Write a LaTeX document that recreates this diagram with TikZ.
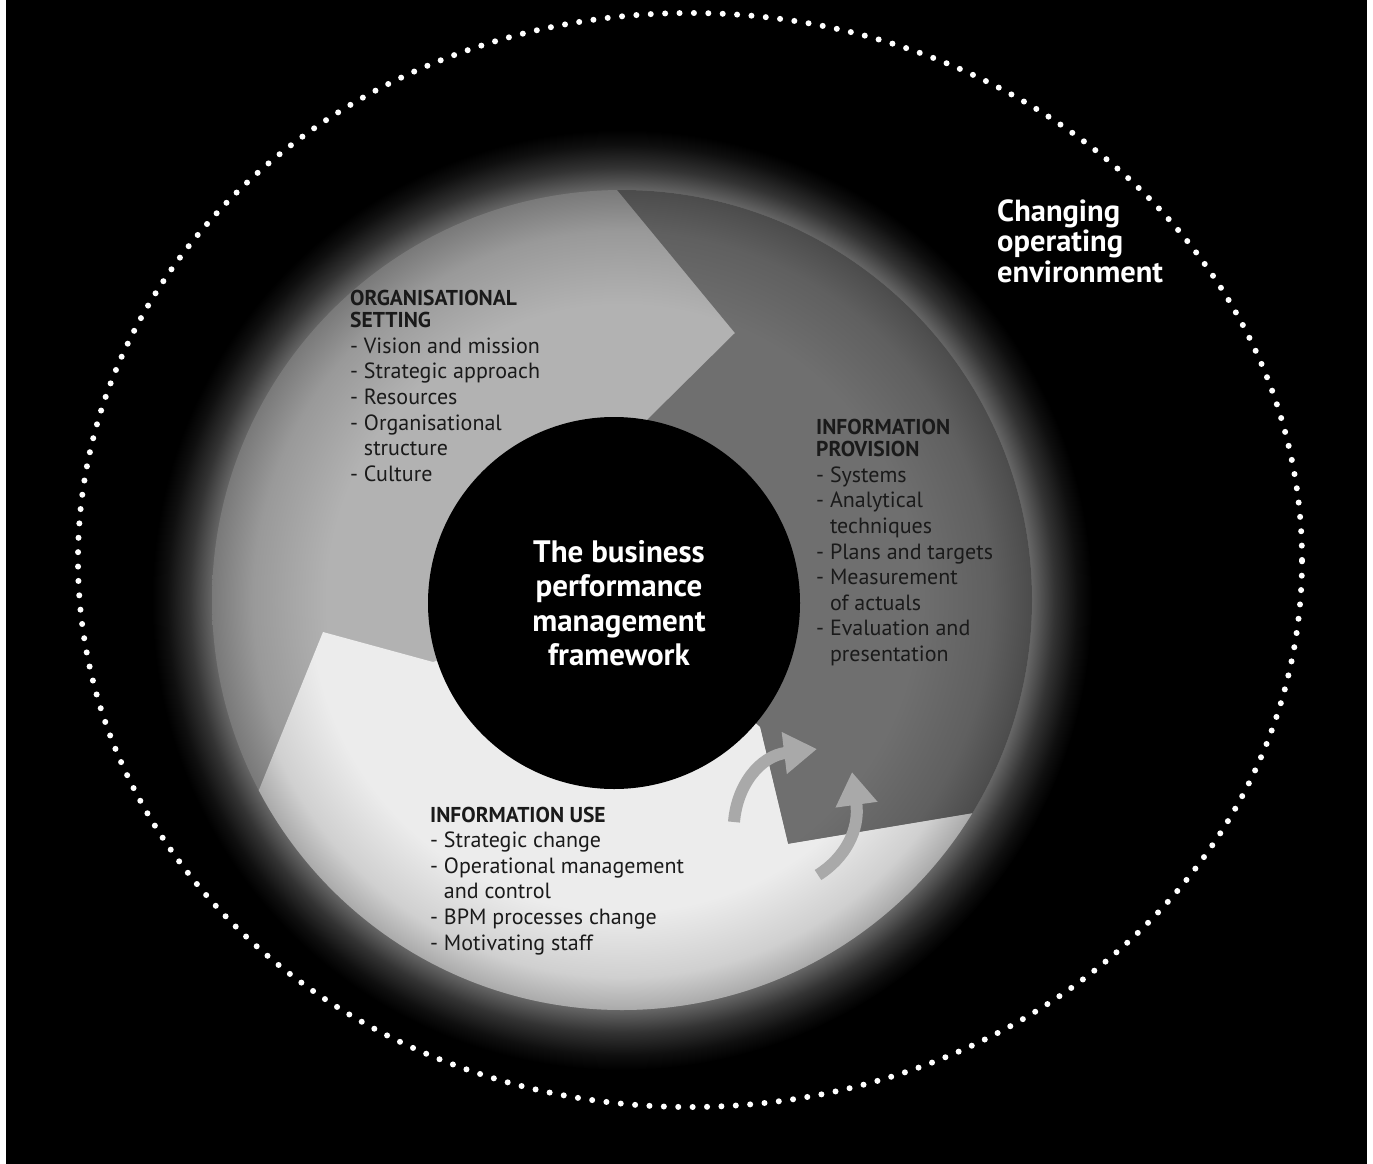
\documentclass[tikz,border=0pt]{standalone}
\usepackage{fontspec}
\setmainfont{PT Sans}
\usetikzlibrary{arrows.meta}
\definecolor{cA}{HTML}{B2B2B2}
\definecolor{cB}{HTML}{6F6F6F}
\definecolor{cC}{HTML}{ECECEC}
\definecolor{arrc}{HTML}{A9A9A9}
\definecolor{txt}{HTML}{1A1A1A}
\pgfdeclareradialshading{halo}{\pgfpoint{0bp}{0bp}}{color(0bp)=(black!60); color(21.8bp)=(black!60); color(23bp)=(black!80); color(24.2bp)=(black!94); color(25bp)=(black); color(50bp)=(black)}
\pgfdeclareradialshading{shA}{\pgfpoint{0bp}{0bp}}{color(0bp)=(cA); color(18bp)=(cA); color(22.5bp)=(cA!86!black); color(25bp)=(cA!68!black); color(50bp)=(cA!68!black)}
\pgfdeclareradialshading{shB}{\pgfpoint{0bp}{0bp}}{color(0bp)=(cB); color(18bp)=(cB); color(22.5bp)=(cB!86!black); color(25bp)=(cB!68!black); color(50bp)=(cB!68!black)}
\pgfdeclareradialshading{shC}{\pgfpoint{0bp}{0bp}}{color(0bp)=(cC); color(19bp)=(cC); color(23bp)=(cC!88!black); color(25bp)=(cC!72!black); color(50bp)=(cC!72!black)}
\begin{document}
\begin{tikzpicture}[x=1pt,y=-1pt,
  listtext/.style={anchor=base west, inner sep=0pt, text=txt, font=\fontsize{22}{25.6}\selectfont},
  centertext/.style={anchor=base, inner sep=0pt, text=white, font=\bfseries\fontsize{31}{34.5}\selectfont},
  envtext/.style={anchor=base west, inner sep=0pt, text=white, font=\bfseries\fontsize{30.5}{30.5}\selectfont},
  cyclearrow/.style={draw=arrc, line width=12pt, -{Triangle[width=40pt,length=33pt,fill=arrc]}},
  dots/.style={draw=white, line width=6pt, line cap=round, dash pattern=on 0pt off 14.4pt}]
\newcommand{\hdr}[1]{{\bfseries\fontsize{21.5}{22}\selectfont #1}}
\useasboundingbox (0,0) rectangle (1373,1164);
\fill[white] (0,0) rectangle (1373,1164);
\fill[black] (6,0) rectangle (1367,1164);
\coordinate (G) at (622,600);
% halo
\shade[shading=halo] (G) circle (470pt);
% sectors
\begin{scope}
  \clip (G) circle (410pt);
  \shade[shading=shA] (G) circle (410pt);
  \begin{scope}
    \clip (647,420) -- (735,333) -- (613,185) -- (572,135) -- (600,80) -- (1100,80) -- (1100,792) -- (788,844) -- (760,727) -- (614,603) -- cycle;
    \shade[shading=shB] (G) circle (410pt);
  \end{scope}
  \begin{scope}
    \clip (433,662) -- (323,632) -- (190,960) -- (190,1100) -- (1100,1100) -- (1100,792) -- (788,844) -- (760,727) -- (614,603) -- cycle;
    \shade[shading=shC] (G) circle (410pt);
  \end{scope}
\end{scope}
% core circle
\node[circle, fill=black, minimum size=372pt, inner sep=0pt] (core) at (614,603) {};
\node[centertext] (coretext) at (619,562) {\begin{tabular}[t]{@{}c@{}}The business\\ performance\\ management\\ framework\end{tabular}};
% cycle arrows
\coordinate (a1s) at (734,822);
\coordinate (a1e) at (817,749);
\coordinate (a2s) at (818,875);
\coordinate (a2e) at (852,772);
\draw[cyclearrow] (a1s) .. controls (737,785) and (760,756) .. (a1e);
\draw[cyclearrow] (a2s) .. controls (845,858) and (860,830) .. (a2e);
% texts
\node[listtext] (org) at (350,305) {\begin{tabular}[t]{@{}l@{}}\hdr{ORGANISATIONAL}\\[-3pt] \hdr{SETTING}\\ - Vision and mission\\ - Strategic approach\\ - Resources\\ - Organisational\\ \phantom{- }structure\\ - Culture\end{tabular}};
\node[listtext] (prov) at (816,434) {\begin{tabular}[t]{@{}l@{}}\hdr{INFORMATION}\\[-3pt] \hdr{PROVISION}\\ - Systems\\ - Analytical\\ \phantom{- }techniques\\ - Plans and targets\\ - Measurement\\ \phantom{- }of actuals\\ - Evaluation and\\ \phantom{- }presentation\end{tabular}};
\node[listtext] (use) at (430,822) {\begin{tabular}[t]{@{}l@{}}\hdr{INFORMATION USE}\\ - Strategic change\\ - Operational management\\ \phantom{- }and control\\ - BPM processes change\\ - Motivating staff\end{tabular}};
\node[envtext] (env) at (997,221) {\begin{tabular}[t]{@{}l@{}}Changing\\ operating\\ environment\end{tabular}};
% dotted boundary
\draw[dots] (690,560) ellipse [x radius=612pt, y radius=547pt];
\end{tikzpicture}
\end{document}
